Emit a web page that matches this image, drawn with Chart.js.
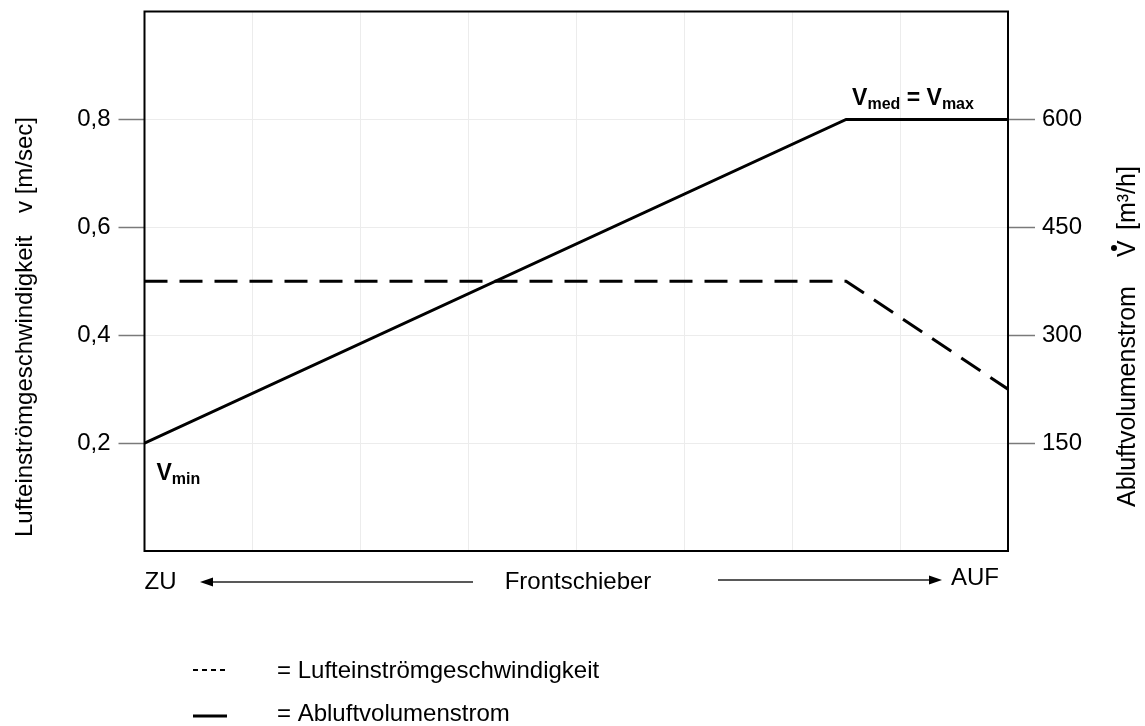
<!DOCTYPE html>
<html>
<head>
<meta charset="utf-8">
<script src="https://cdn.jsdelivr.net/npm/chart.js@4.4.1/dist/chart.umd.min.js"></script>
<style>
  body { margin: 0; background: #fff; }
  #wrap { width: 1145px; height: 726px; }
</style>
</head>
<body>
<div id="wrap"><canvas id="frontChart"></canvas></div>
<script>
// slider position in grid divisions (0 = ZU, 8 = AUF)
const positions = [0, 6.5, 8];
// Lufteinströmgeschwindigkeit v [m/sec]
const velocity = [0.5, 0.5, 0.3];
// Abluftvolumenstrom V [m3/h]
const airflow = [150, 600, 600];
const leftTicks = [0.2, 0.4, 0.6, 0.8];
const rightTicks = [150, 300, 450, 600];

const FONT = "'Liberation Sans', Arial, sans-serif";

const toPoints = (ys) => positions.map((x, i) => ({ x: x, y: ys[i] }));

const hideEnds = (list) => (ctx) =>
  list.includes(Math.round(ctx.tick.value * 100) / 100) ? "#7a7a7a" : "rgba(0,0,0,0)";
const gridEnds = (list) => (ctx) =>
  list.includes(Math.round(ctx.tick.value * 100) / 100) ? "#ececec" : "rgba(0,0,0,0)";

function arrow(ctx, x1, x2, y) {
  const dir = x2 > x1 ? 1 : -1;
  ctx.beginPath();
  ctx.moveTo(x1, y);
  ctx.lineTo(x2 - dir * 10, y);
  ctx.stroke();
  ctx.beginPath();
  ctx.moveTo(x2, y);
  ctx.lineTo(x2 - dir * 13, y - 4.5);
  ctx.lineTo(x2 - dir * 13, y + 4.5);
  ctx.closePath();
  ctx.fill();
}

function subLabel(ctx, x, y, parts) {
  // parts: [text, isSub]
  let cx = x;
  parts.forEach(([t, sub]) => {
    ctx.font = sub ? "bold 16px " + FONT : "bold 23px " + FONT;
    ctx.fillText(t, cx, sub ? y + 4 : y);
    cx += ctx.measureText(t).width;
  });
}

const noPad = (w) => (scale) => {
  scale.width = w;
  scale.paddingTop = 0;
  scale.paddingBottom = 0;
};

const decorations = {
  id: "decorations",
  afterDraw(chart) {
    const ctx = chart.ctx;
    const a = chart.chartArea;
    const xs = chart.scales.x;
    const y2 = chart.scales.y2;
    ctx.save();

    // frame
    ctx.strokeStyle = "#000";
    ctx.lineWidth = 2;
    ctx.strokeRect(a.left, a.top, a.right - a.left, a.bottom - a.top);

    ctx.fillStyle = "#000";
    ctx.textBaseline = "alphabetic";
    ctx.textAlign = "left";

    // point labels
    subLabel(ctx, xs.getPixelForValue(0) + 12, y2.getPixelForValue(150) + 37,
      [["V", false], ["min", true]]);
    subLabel(ctx, xs.getPixelForValue(6.5) + 6, y2.getPixelForValue(600) - 14,
      [["V", false], ["med", true], [" = ", false], ["V", false], ["max", true]]);

    // axis titles
    ctx.font = "24px " + FONT;
    ctx.textBaseline = "middle";
    ctx.save();
    ctx.translate(25, 537);
    ctx.rotate(-Math.PI / 2);
    ctx.fillText("Lufteinströmgeschwindigkeit", 0, 0);
    ctx.fillText("v [m/sec]", 324, 0);
    ctx.restore();

    ctx.save();
    ctx.font = "25px " + FONT;
    ctx.translate(1128, 507);
    ctx.rotate(-Math.PI / 2);
    ctx.fillText("Abluftvolumenstrom", 0, 0);
    ctx.fillText("V", 250, 0);
    ctx.fillText("[m³/h]", 277, 0);
    ctx.beginPath();
    ctx.arc(259, -14, 3, 0, Math.PI * 2);
    ctx.fill();
    ctx.restore();

    // slider axis
    const by = 582;
    ctx.textAlign = "left";
    ctx.fillText("ZU", a.left, by);
    ctx.textAlign = "right";
    ctx.fillText("AUF", a.right - 9, by - 4);
    ctx.textAlign = "center";
    ctx.fillText("Frontschieber", 578, by);
    ctx.strokeStyle = "#222";
    ctx.fillStyle = "#000";
    ctx.lineWidth = 1.5;
    arrow(ctx, 473, 200, by);
    arrow(ctx, 718, 942, by - 2);

    // legend
    ctx.textAlign = "left";
    ctx.strokeStyle = "#000";
    ctx.lineWidth = 2;
    ctx.setLineDash([5, 4]);
    ctx.beginPath();
    ctx.moveTo(193, 670);
    ctx.lineTo(227, 670);
    ctx.stroke();
    ctx.setLineDash([]);
    ctx.lineWidth = 3;
    ctx.beginPath();
    ctx.moveTo(193, 716);
    ctx.lineTo(227, 716);
    ctx.stroke();
    ctx.fillText("= Lufteinströmgeschwindigkeit", 277, 671);
    ctx.fillText("= Abluftvolumenstrom", 277, 714);

    ctx.restore();
  },
};

new Chart(document.getElementById("frontChart"), {
  type: "line",
  data: {
    datasets: [
      {
        label: "Lufteinströmgeschwindigkeit",
        data: toPoints(velocity),
        yAxisID: "y",
        borderColor: "#000",
        borderWidth: 3,
        borderDash: [23, 12],
        pointRadius: 0,
        tension: 0,
      },
      {
        label: "Abluftvolumenstrom",
        data: toPoints(airflow),
        yAxisID: "y2",
        borderColor: "#000",
        borderWidth: 3,
        pointRadius: 0,
        tension: 0,
      },
    ],
  },
  options: {
    responsive: true,
    maintainAspectRatio: false,
    animation: false,
    layout: {
      padding: { top: 11.5, bottom: 175, left: 0, right: 0 },
    },
    plugins: {
      legend: { display: false },
      tooltip: { enabled: false },
    },
    scales: {
      x: {
        type: "linear",
        min: 0,
        max: 8,
        ticks: { display: false, stepSize: 1 },
        grid: { color: "#ececec", lineWidth: 1, drawTicks: false },
        border: { display: false },
        afterFit: (scale) => { scale.height = 0; },
      },
      y: {
        position: "left",
        min: 0,
        max: 1,
        ticks: {
          stepSize: 0.2,
          color: "#000",
          padding: 8,
          font: { family: FONT, size: 24 },
          callback: (v) => {
            const r = Math.round(v * 100) / 100;
            return leftTicks.includes(r) ? r.toFixed(1).replace(".", ",") : "";
          },
        },
        grid: {
          color: gridEnds(leftTicks),
          tickColor: hideEnds(leftTicks),
          tickLength: 26,
          tickWidth: 1.5,
        },
        border: { display: false },
        afterFit: noPad(144.5),
      },
      y2: {
        position: "right",
        min: 0,
        max: 750,
        ticks: {
          stepSize: 150,
          color: "#000",
          padding: 7,
          font: { family: FONT, size: 24 },
          callback: (v) => (rightTicks.includes(v) ? String(v) : ""),
        },
        grid: {
          drawOnChartArea: false,
          tickColor: hideEnds(rightTicks),
          tickLength: 27,
          tickWidth: 1.5,
        },
        border: { display: false },
        afterFit: noPad(137),
      },
    },
  },
  plugins: [decorations],
});
</script>
</body>
</html>
